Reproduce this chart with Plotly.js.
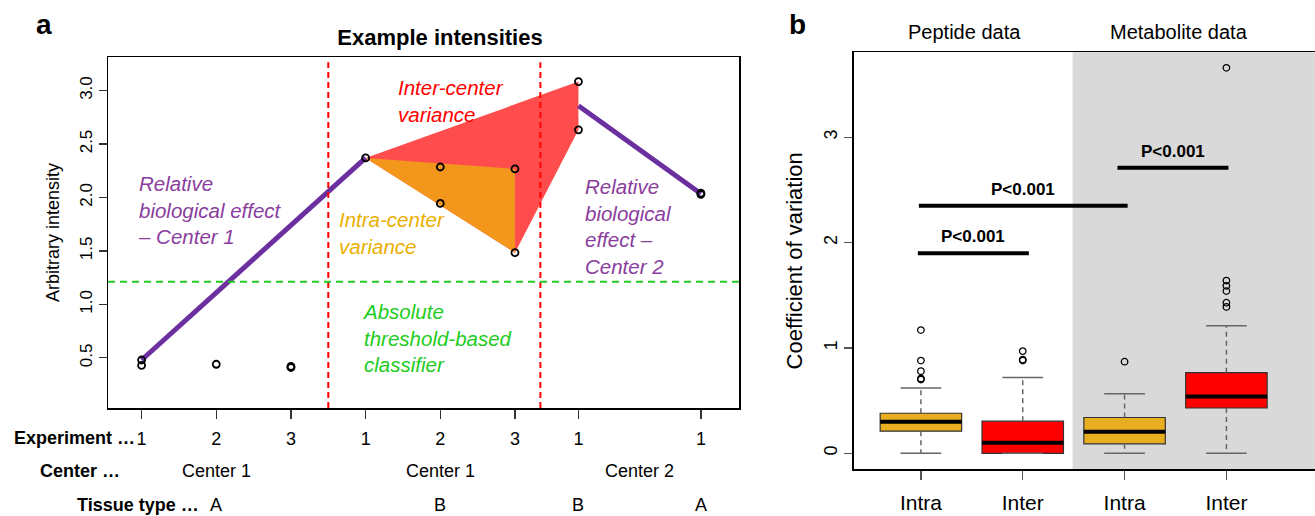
<!DOCTYPE html>
<html>
<head>
<meta charset="utf-8">
<script src="https://cdn.plot.ly/plotly-3.0.1.min.js"></script>
<style>html,body{margin:0;padding:0;background:#fff;}#chart{width:1315px;height:516px;}</style>
</head>
<body>
<div id="chart"></div>
<script>
// ---------- Panel a data ----------
const expPos = [1, 2, 3, 4, 5, 6, 6.85, 8.49];
const expLabels = ['1', '2', '3', '1', '2', '3', '1', '1'];
const pointPos = [1, 1, 2, 3, 3, 4, 5, 5, 6, 6, 6.85, 6.85, 8.49, 8.49];
const pointVal = [0.48, 0.43, 0.44, 0.42, 0.41, 2.37, 2.285, 1.944, 2.267, 1.484, 3.084, 2.633, 2.04, 2.03];
const centerLabels = ['Center 1', 'Center 1', 'Center 2'];
const centerPos = [2, 5, 7.67];
const tissueLabels = ['A', 'B', 'B', 'A'];
const tissuePos = [2, 5, 6.85, 8.49];
const thresholdVal = 1.212;
const separatorPos = [3.5, 6.34];

// ---------- Panel b data ----------
const bCategories = ['Intra', 'Inter', 'Intra', 'Inter'];
const bPos = [1, 2, 3, 4];
const bQ1 = [0.21, 0.0, 0.09, 0.43];
const bMedian = [0.30, 0.10, 0.205, 0.54];
const bQ3 = [0.38, 0.305, 0.34, 0.765];
const bLowWhisker = [0, 0, 0, 0];
const bHighWhisker = [0.62, 0.72, 0.565, 1.21];
const outPeptideIntra = [1.17, 0.88, 0.78, 0.71, 0.70];
const outPeptideInter = [0.97, 0.89, 0.88];
const outMetaboliteIntra = [0.87];
const outMetaboliteInter = [3.66, 1.64, 1.59, 1.54, 1.43, 1.39];
const bracketStart = [0.97, 0.98, 2.93];
const bracketEnd = [2.06, 3.03, 4.02];
const bracketVal = [1.90, 2.35, 2.71];
const bracketText = ['P<0.001', 'P<0.001', 'P<0.001'];
const bSections = ['Peptide data', 'Metabolite data'];

const FONT = 'Liberation Sans, Arial, Helvetica, sans-serif';
const boxColors = ['#E9AE1F', '#FF0000', '#E9AE1F', '#FF0000'];

const traces = [];
function pv(p, k) { // value of k-th point at position p
  const arr = [];
  pointPos.forEach((x, i) => { if (x === p) arr.push(pointVal[i]); });
  return arr[k];
}
function mean(a) { return a.reduce((s, v) => s + v, 0) / a.length; }

// inter-center polygon (red)
traces.push({
  x: [4, 6.85, 6.85, 6, 4], y: [pv(4,0), pv(6.85,0), pv(6.85,1), pv(6,1), pv(4,0)],
  xaxis: 'x', yaxis: 'y', mode: 'lines', fill: 'toself', fillcolor: '#FF4D4D',
  line: {width: 0, color: '#FF4D4D'}, hoverinfo: 'skip', showlegend: false
});
// intra-center polygon (orange)
traces.push({
  x: [4, 6, 6, 4], y: [pv(4,0), pv(6,0), pv(6,1), pv(4,0)],
  xaxis: 'x', yaxis: 'y', mode: 'lines', fill: 'toself', fillcolor: '#F2971B',
  line: {width: 0, color: '#F2971B'}, hoverinfo: 'skip', showlegend: false
});
// relative biological effect lines
traces.push({
  x: [1, 4], y: [pv(1,0), pv(4,0)], xaxis: 'x', yaxis: 'y', mode: 'lines',
  line: {color: '#6B2FA0', width: 5}, showlegend: false
});
traces.push({
  x: [6.85, 8.49], y: [mean([pv(6.85,0), pv(6.85,1)]), mean([pv(8.49,0), pv(8.49,1)])],
  xaxis: 'x', yaxis: 'y', mode: 'lines', line: {color: '#6B2FA0', width: 5}, showlegend: false
});
// points
traces.push({
  x: pointPos, y: pointVal, xaxis: 'x', yaxis: 'y', mode: 'markers',
  marker: {symbol: 'circle-open', size: 7, color: '#000', line: {width: 1.8, color: '#000'}},
  showlegend: false
});

// ---------- panel b traces ----------
traces.push({
  type: 'bar', x: bPos, base: bQ1, y: bQ3.map((v, i) => v - bQ1[i]), width: 0.8,
  xaxis: 'x2', yaxis: 'y2', marker: {color: boxColors, line: {color: '#333', width: 1.2}},
  showlegend: false
});
function segs(fn) {
  const xs = [], ys = [];
  bPos.forEach((p, i) => { const s = fn(p, i); if (s) { xs.push(s[0], s[1], null); ys.push(s[2], s[3], null); } });
  return {x: xs, y: ys};
}
// medians
let s = segs((p, i) => [p - 0.4, p + 0.4, bMedian[i], bMedian[i]]);
traces.push({x: s.x, y: s.y, xaxis: 'x2', yaxis: 'y2', mode: 'lines', line: {color: '#000', width: 4}, showlegend: false});
// whiskers (dashed)
s = segs((p, i) => [p, p, bQ3[i], bHighWhisker[i]]);
let s2 = segs((p, i) => bQ1[i] > bLowWhisker[i] ? [p, p, bQ1[i], bLowWhisker[i]] : null);
traces.push({x: s.x.concat(s2.x), y: s.y.concat(s2.y), xaxis: 'x2', yaxis: 'y2', mode: 'lines',
  line: {color: '#666', width: 1.5, dash: '5px,4px'}, showlegend: false});
// caps
s = segs((p, i) => [p - 0.2, p + 0.2, bHighWhisker[i], bHighWhisker[i]]);
s2 = segs((p, i) => [p - 0.2, p + 0.2, bLowWhisker[i], bLowWhisker[i]]);
traces.push({x: s.x.concat(s2.x), y: s.y.concat(s2.y), xaxis: 'x2', yaxis: 'y2', mode: 'lines',
  line: {color: '#666', width: 1.5}, showlegend: false});
// outliers
const outs = [outPeptideIntra, outPeptideInter, outMetaboliteIntra, outMetaboliteInter];
const ox = [], oy = [];
outs.forEach((arr, i) => arr.forEach(v => { ox.push(bPos[i]); oy.push(v); }));
traces.push({x: ox, y: oy, xaxis: 'x2', yaxis: 'y2', mode: 'markers',
  marker: {symbol: 'circle-open', size: 6.5, color: '#000', line: {width: 1.3, color: '#222'}}, showlegend: false});
// brackets
s = {x: [], y: []};
bracketStart.forEach((b, i) => { s.x.push(b, bracketEnd[i], null); s.y.push(bracketVal[i], bracketVal[i], null); });
traces.push({x: s.x, y: s.y, xaxis: 'x2', yaxis: 'y2', mode: 'lines', line: {color: '#000', width: 4}, showlegend: false});

// ---------- annotations ----------
const ann = [];
function it(text, x, y, color) {
  ann.push({text: '<i>' + text + '</i>', x: x, y: y, xref: 'x', yref: 'y', xanchor: 'left', yanchor: 'middle',
    align: 'left', showarrow: false, font: {family: FONT, size: 20.5, color: color}});
}
it('Relative<br>biological effect<br>– Center 1', 0.92, 1.88, '#8A3D9E');
it('Intra-center<br>variance', 3.61, 1.665, '#EBB000');
it('Inter-center<br>variance', 4.41, 2.90, '#FF0000');
it('Relative<br>biological<br>effect –<br>Center 2', 6.91, 1.725, '#8A3D9E');
it('Absolute<br>threshold-based<br>classifier', 3.92, 0.685, '#22CC22');

// row labels under panel a
function rowLabel(text, xPix, yPix) {
  ann.push({text: '<b>' + text + '</b>', x: xPix / 1315, y: 1 - yPix / 516, xref: 'paper', yref: 'paper',
    xanchor: 'right', yanchor: 'middle', showarrow: false, font: {family: FONT, size: 18, color: '#000'}});
}
rowLabel('Experiment …', 137, 438);
rowLabel('Center …', 122, 471);
rowLabel('Tissue type …', 201, 505);
centerLabels.forEach((t, i) => ann.push({text: t, x: centerPos[i], y: 1 - 471 / 516, xref: 'x', yref: 'paper',
  xanchor: 'center', yanchor: 'middle', showarrow: false, font: {family: FONT, size: 18, color: '#000'}}));
tissueLabels.forEach((t, i) => ann.push({text: t, x: tissuePos[i], y: 1 - 505 / 516, xref: 'x', yref: 'paper',
  xanchor: 'center', yanchor: 'middle', showarrow: false, font: {family: FONT, size: 18, color: '#000'}}));

// panel letters
ann.push({text: '<b>a</b>', x: 44 / 1315, y: 1 - 25 / 516, xref: 'paper', yref: 'paper', xanchor: 'center', yanchor: 'middle',
  showarrow: false, font: {family: FONT, size: 28, color: '#000'}});
ann.push({text: '<b>b</b>', x: 797 / 1315, y: 1 - 25 / 516, xref: 'paper', yref: 'paper', xanchor: 'center', yanchor: 'middle',
  showarrow: false, font: {family: FONT, size: 28, color: '#000'}});

// section headers panel b
const secPos = [1.43, 3.53];
bSections.forEach((t, i) => ann.push({text: t, x: secPos[i], y: 1 - 32 / 516, xref: 'x2', yref: 'paper',
  xanchor: 'center', yanchor: 'middle', showarrow: false, font: {family: FONT, size: 20, color: '#000'}}));
// bracket labels
bracketText.forEach((t, i) => ann.push({text: '<b>' + t + '</b>', x: (bracketStart[i] + bracketEnd[i]) / 2, y: bracketVal[i] + 0.05,
  xref: 'x2', yref: 'y2', xanchor: 'center', yanchor: 'bottom', showarrow: false, font: {family: FONT, size: 17, color: '#000'}}));

// ---------- shapes ----------
const shapes = [];
separatorPos.forEach(p => shapes.push({type: 'line', xref: 'x', yref: 'y domain', x0: p, x1: p, y0: 0, y1: 0.985,
  line: {color: '#FF0000', width: 2, dash: '6px,4px'}, layer: 'above'}));
shapes.push({type: 'line', xref: 'x domain', yref: 'y', x0: 0, x1: 1, y0: thresholdVal, y1: thresholdVal,
  line: {color: '#22CC22', width: 1.8, dash: '7px,5px'}, layer: 'above'});
shapes.push({type: 'rect', xref: 'x2', yref: 'y2 domain', x0: 2.49, x1: 4.87, y0: 0, y1: 1,
  fillcolor: '#D9D9D9', line: {width: 0}, layer: 'below'});

const layout = {
  width: 1315, height: 516, margin: {l: 0, r: 0, t: 0, b: 0},
  paper_bgcolor: '#fff', plot_bgcolor: 'rgba(0,0,0,0)',
  font: {family: FONT, color: '#000'},
  showlegend: false,
  title: {text: '<b>Example intensities</b>', x: 440 / 1315, xanchor: 'center', y: 1 - 37 / 516, yanchor: 'middle',
    font: {family: FONT, size: 22, color: '#000'}},
  xaxis: {domain: [108 / 1315, 739 / 1315], range: [0.55, 9.0], anchor: 'y',
    tickmode: 'array', tickvals: expPos, ticktext: expLabels, ticks: 'outside', ticklen: 9, tickwidth: 1.2, tickcolor: '#333',
    ticklabelstandoff: 5, showgrid: false, zeroline: false, showline: true, linecolor: '#000', linewidth: 1.5, mirror: true,
    tickfont: {family: FONT, size: 18, color: '#000'}},
  yaxis: {domain: [1 - 408 / 516, 1 - 57 / 516], range: [0.031, 3.314], anchor: 'x',
    tickmode: 'array', tickvals: [0.5, 1.0, 1.5, 2.0, 2.5, 3.0], tickformat: '.1f', tickangle: -90,
    ticks: 'outside', ticklen: 8, tickwidth: 1.2, tickcolor: '#333', showgrid: false, zeroline: false,
    showline: true, linecolor: '#000', linewidth: 1.5, mirror: true,
    tickfont: {family: FONT, size: 17, color: '#000'},
    title: {text: 'Arbitrary intensity', standoff: 12, font: {family: FONT, size: 18, color: '#000'}}},
  xaxis2: {domain: [853.7 / 1315, 1], range: [0.34, 4.87], anchor: 'y2',
    tickmode: 'array', tickvals: bPos, ticktext: bCategories, ticks: 'outside', ticklen: 9, tickwidth: 1.2, tickcolor: '#555',
    ticklabelstandoff: 5, showgrid: false, zeroline: false, showline: true, linecolor: '#000', linewidth: 1.5, mirror: true,
    tickfont: {family: FONT, size: 21, color: '#000'}},
  yaxis2: {domain: [1 - 469.3 / 516, 1 - 52.3 / 516], range: [-0.152, 3.807], anchor: 'x2',
    tickmode: 'array', tickvals: [0, 1, 2, 3], tickangle: -90, ticks: 'outside', ticklen: 8, tickwidth: 1.2, tickcolor: '#555',
    showgrid: false, zeroline: false, showline: true, linecolor: '#000', linewidth: 1.5, mirror: false,
    tickfont: {family: FONT, size: 18, color: '#000'},
    title: {text: 'Coefficient of variation', standoff: 12, font: {family: FONT, size: 22, color: '#000'}}},
  annotations: ann, shapes: shapes, bargap: 0
};

Plotly.newPlot('chart', traces, layout, {displayModeBar: false, staticPlot: true});
</script>
</body>
</html>
